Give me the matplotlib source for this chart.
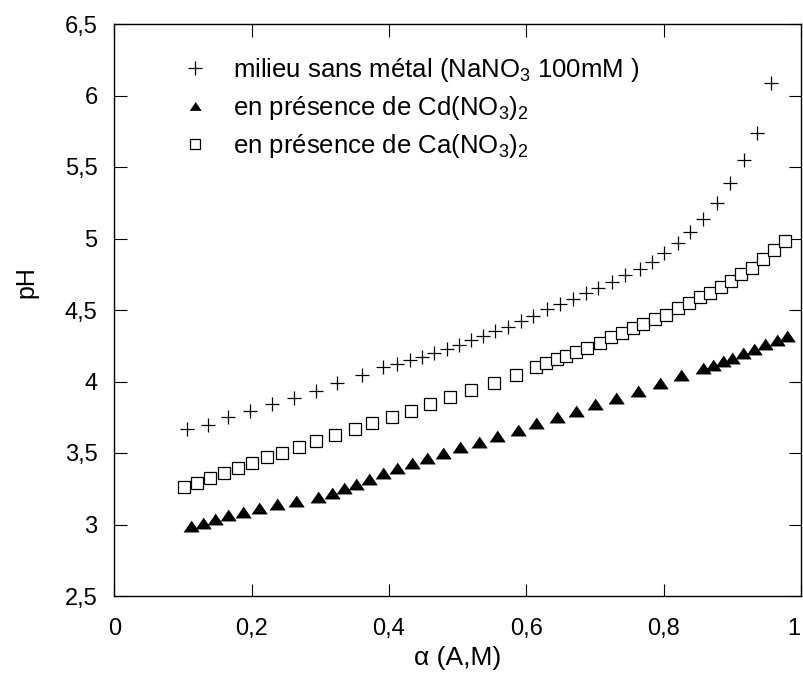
import matplotlib
matplotlib.use("Agg")
import matplotlib.pyplot as plt
from matplotlib.lines import Line2D
from matplotlib.ticker import FixedLocator, FixedFormatter
from matplotlib.transforms import ScaledTranslation

plt.rcParams['font.family'] = ['Liberation Sans', 'DejaVu Sans']
plt.rcParams['mathtext.fontset'] = 'custom'
plt.rcParams['mathtext.rm'] = 'Liberation Sans'
plt.rcParams['mathtext.it'] = 'Liberation Sans:italic'
plt.rcParams['mathtext.bf'] = 'Liberation Sans:bold'

# --- data ---
alpha_na = [0.106, 0.136, 0.166, 0.198, 0.229, 0.261, 0.294, 0.325, 0.360, 0.392,
            0.411, 0.430, 0.448, 0.466, 0.484, 0.502, 0.519, 0.537, 0.555, 0.573,
            0.592, 0.610, 0.630, 0.649, 0.668, 0.687, 0.705, 0.725, 0.744, 0.765,
            0.783, 0.801, 0.821, 0.839, 0.858, 0.877, 0.897, 0.917, 0.936, 0.957]
ph_na = [3.666, 3.698, 3.750, 3.794, 3.843, 3.883, 3.936, 3.987, 4.045, 4.099,
         4.122, 4.150, 4.173, 4.201, 4.229, 4.255, 4.290, 4.318, 4.353, 4.383,
         4.425, 4.460, 4.505, 4.542, 4.575, 4.617, 4.652, 4.696, 4.748, 4.787,
         4.838, 4.897, 4.971, 5.048, 5.134, 5.246, 5.386, 5.549, 5.736, 6.085]

alpha_cd = [0.111, 0.129, 0.146, 0.165, 0.187, 0.211, 0.237, 0.265, 0.297, 0.317,
            0.334, 0.352, 0.371, 0.392, 0.411, 0.433, 0.455, 0.479, 0.503, 0.531,
            0.558, 0.588, 0.614, 0.644, 0.672, 0.700, 0.731, 0.762, 0.795, 0.825,
            0.858, 0.872, 0.887, 0.900, 0.915, 0.931, 0.948, 0.965, 0.980]
ph_cd = [2.990, 3.013, 3.036, 3.064, 3.090, 3.113, 3.143, 3.166, 3.194, 3.222,
         3.255, 3.283, 3.320, 3.358, 3.393, 3.428, 3.463, 3.498, 3.540, 3.579,
         3.621, 3.661, 3.708, 3.754, 3.794, 3.841, 3.887, 3.936, 3.992, 4.045,
         4.092, 4.115, 4.145, 4.166, 4.197, 4.225, 4.260, 4.290, 4.320]

alpha_ca = [0.102, 0.120, 0.139, 0.160, 0.180, 0.200, 0.222, 0.244, 0.269, 0.294,
            0.322, 0.350, 0.376, 0.404, 0.432, 0.460, 0.489, 0.519, 0.553, 0.585,
            0.614, 0.628, 0.644, 0.658, 0.673, 0.689, 0.707, 0.723, 0.739, 0.755,
            0.770, 0.787, 0.804, 0.821, 0.837, 0.853, 0.868, 0.883, 0.898, 0.912,
            0.928, 0.944, 0.960, 0.977]
ph_ca = [3.264, 3.292, 3.327, 3.362, 3.397, 3.432, 3.470, 3.502, 3.544, 3.584,
         3.626, 3.666, 3.708, 3.754, 3.796, 3.843, 3.890, 3.941, 3.992, 4.045,
         4.099, 4.127, 4.155, 4.178, 4.206, 4.234, 4.266, 4.309, 4.341, 4.372,
         4.402, 4.435, 4.465, 4.512, 4.547, 4.589, 4.621, 4.663, 4.703, 4.752,
         4.792, 4.855, 4.920, 4.983]

x_ticks = [0, 0.2, 0.4, 0.6, 0.8, 1]
x_ticklabels = ["0", "0,2", "0,4", "0,6", "0,8", "1"]
y_ticks = [2.5, 3, 3.5, 4, 4.5, 5, 5.5, 6, 6.5]
y_ticklabels = ["2,5", "3", "3,5", "4", "4,5", "5", "5,5", "6", "6,5"]

labels = [r"milieu sans métal (NaNO$_3$ 100mM )",
          r"en présence de Cd(NO$_3$)$_2$",
          r"en présence de Ca(NO$_3$)$_2$"]

# --- figure ---
fig = plt.figure(figsize=(8.04, 6.81), dpi=100)
ax = fig.add_axes([114.3/804, 1-596/681, (801-114.3)/804, (596-24)/681])

tri = [(-1, -0.73), (1, -0.73), (0, 0.73)]
ax.plot(alpha_na, ph_na, linestyle='none', marker='+', markersize=10,
        markeredgewidth=0.9, color='black')
ax.plot(alpha_cd, ph_cd, linestyle='none', marker=tri, markersize=11,
        markeredgewidth=0.5, color='black')
ax.plot(alpha_ca, ph_ca, linestyle='none', marker='s', markersize=8,
        markeredgewidth=0.9, markerfacecolor='white', markeredgecolor='black')

ax.set_xlim(0, 1)
ax.set_ylim(2.5, 6.5)
ax.xaxis.set_major_locator(FixedLocator(x_ticks))
ax.xaxis.set_major_formatter(FixedFormatter(x_ticklabels))
ax.yaxis.set_major_locator(FixedLocator(y_ticks))
ax.yaxis.set_major_formatter(FixedFormatter(y_ticklabels))
ax.tick_params(direction='in', length=9, width=0.8, top=True, right=True,
               labelsize=17, colors='black')
ax.tick_params(axis='x', pad=16)
ax.tick_params(axis='y', pad=12)
for s in ax.spines.values():
    s.set_linewidth(1.0)

# keep the last x tick label inside the canvas
last = ax.get_xticklabels()[-1]
last.set_transform(last.get_transform() + ScaledTranslation(-5/72, 0, fig.dpi_scale_trans))

ax.set_xlabel(r"α (A,M)", fontsize=19, labelpad=4)
ax.set_ylabel("pH", fontsize=18)
ax.yaxis.set_label_coords(-0.111, 0.549)

handles = [
    Line2D([], [], linestyle='none', marker='+', markersize=10, markeredgewidth=0.9, color='black'),
    Line2D([], [], linestyle='none', marker=tri, markersize=8, markeredgewidth=0.5, color='black'),
    Line2D([], [], linestyle='none', marker='s', markersize=6.5, markeredgewidth=0.9,
           markerfacecolor='white', markeredgecolor='black'),
]
ax.legend(handles, labels, loc='upper left', bbox_to_anchor=(0.09, 0.944),
          frameon=False, fontsize=18.5, handlelength=1.5, handletextpad=0.7,
          borderpad=0, borderaxespad=0, labelspacing=0.38)

fig.savefig("out.png", dpi=100)
